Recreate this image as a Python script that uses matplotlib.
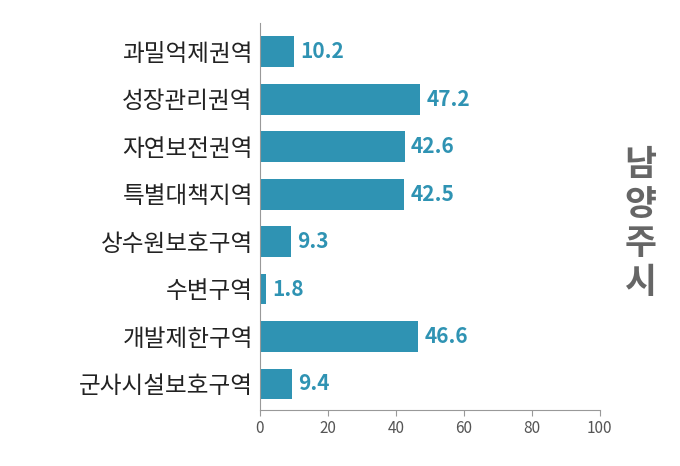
import matplotlib
matplotlib.use("Agg")
import matplotlib.pyplot as plt

categories = ["과밀억제권역", "성장관리권역", "자연보전권역", "특별대책지역",
              "상수원보호구역", "수변구역", "개발제한구역", "군사시설보호구역"]
values = [10.2, 47.2, 42.6, 42.5, 9.3, 1.8, 46.6, 9.4]
xticks = [0, 20, 40, 60, 80, 100]

plt.rcParams["font.family"] = "Noto Sans CJK KR"
color = "#2f93b3"
fig = plt.figure(figsize=(6.8, 4.66), dpi=100)
ax = fig.add_axes([0.382, 0.12, 0.5, 0.83])
y = list(range(len(categories)))
ax.barh(y, values, height=0.65, color=color)
for yi, v in zip(y, values):
    ax.text(v + 1.8, yi, f"{v}", va="center", ha="left", color=color,
            fontsize=15, fontweight="bold")
ax.set_yticks(y)
ax.set_yticklabels(categories, fontsize=17, color="#222222")
ax.set_ylim(len(categories) - 0.45, -0.6)
ax.set_xlim(0, 100)
ax.set_xticks(xticks)
ax.set_xticklabels([str(t) for t in xticks], fontsize=11, color="#555555")
for s in ["top", "right"]:
    ax.spines[s].set_visible(False)
for s in ["left", "bottom"]:
    ax.spines[s].set_color("#999999")
ax.tick_params(axis="y", length=0, pad=5)
ax.tick_params(axis="x", length=4, color="#999999")
fig.text(0.942, 0.52, "남\n양\n주\n시", ha="center", va="center", fontsize=25,
         fontweight="bold", color="#666666", linespacing=1.15)
fig.savefig("out.png", dpi=100)
